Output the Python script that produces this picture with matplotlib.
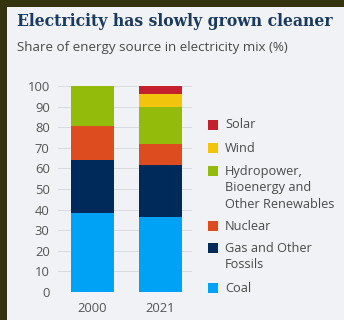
import matplotlib
matplotlib.use("Agg")
import matplotlib.pyplot as plt
from matplotlib.patches import Rectangle

# data
years = ["2000", "2021"]
sources = ["Coal", "Gas and Other\nFossils", "Nuclear",
           "Hydropower,\nBioenergy and\nOther Renewables", "Wind", "Solar"]
coal = [38.2, 36.6]
gas = [25.9, 24.9]
nuclear = [16.5, 10.2]
hydro = [19.4, 18.0]
wind = [0.0, 6.4]
solar = [0.0, 3.9]
colors = ["#00a2f5", "#002a5a", "#dc4c1e", "#93bb0c", "#f2c40c", "#c51f2e"]

W, H = 344, 320
fig = plt.figure(figsize=(W / 100, H / 100), dpi=100)
fig.patch.set_facecolor("#33330f")

# light panel
fig.add_artist(Rectangle((7 / W, 0), 1, 1 - 7 / H, transform=fig.transFigure,
                         facecolor="#f0f2f5", edgecolor="none", zorder=-5))

fig.text(17 / W, 1 - 22 / H, "Electricity has slowly grown cleaner",
         family="DejaVu Serif", stretch="condensed", weight="bold",
         fontsize=12.5, color="#1b3a60", va="center", ha="left")
fig.text(17 / W, 1 - 47 / H, "Share of energy source in electricity mix (%)",
         family="Open Sans", fontsize=9.6, color="#4a4a4a", va="center", ha="left")

ax = fig.add_axes([58 / W, 1 - 292 / H, 134 / W, 206 / H], zorder=2)
ax.set_facecolor("none")
x = [0, 1]
series = [coal, gas, nuclear, hydro, wind, solar]
bottom = [0.0, 0.0]
for vals, c in zip(series, colors):
    ax.bar(x, vals, bottom=bottom, width=0.637, color=c, zorder=2)
    bottom = [b + v for b, v in zip(bottom, vals)]

ax.set_xlim(-0.511, 1.474)
ax.set_ylim(0, 100)
ax.set_yticks(range(0, 101, 10))
ax.set_xticks(x)
ax.set_xticklabels(years)
ax.grid(axis="y", color="#d8dbe0", linewidth=0.7, zorder=0)
ax.set_axisbelow(True)
for s in ax.spines.values():
    s.set_visible(False)
ax.tick_params(length=0, labelsize=9.4, labelcolor="#555555", pad=6)
ax.tick_params(axis="x", pad=7)
for t in ax.get_xticklabels() + ax.get_yticklabels():
    t.set_family("Open Sans")

# legend drawn manually, top to bottom (y of first text line)
leg_y = [125, 148, 171, 226, 248, 288]
for lab, c, yy in zip(sources[::-1], colors[::-1], leg_y):
    fig.add_artist(Rectangle((208 / W, 1 - (yy + 5) / H), 10 / W, 10 / H,
                             transform=fig.transFigure, facecolor=c,
                             edgecolor="none"))
    nlines = lab.count("\n")
    fig.text(225 / W, 1 - (yy + nlines * 8.5) / H, lab, family="Open Sans",
             fontsize=9.2, color="#4a4a4a", va="center", ha="left",
             linespacing=1.4)

fig.savefig("out.png", dpi=100, facecolor=fig.get_facecolor())
